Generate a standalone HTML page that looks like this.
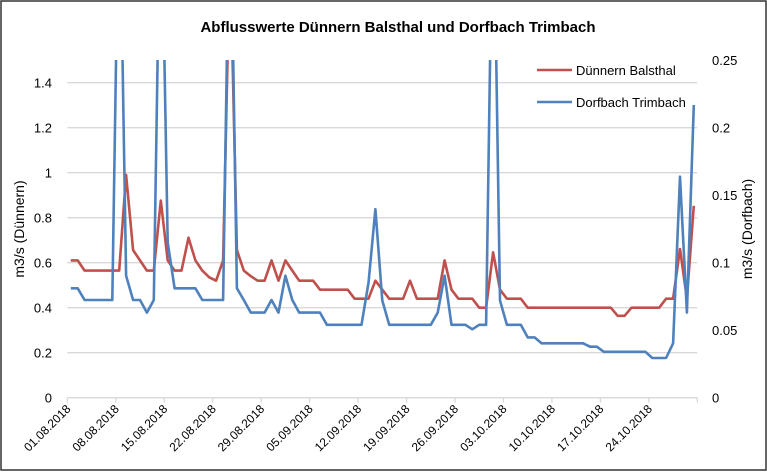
<!DOCTYPE html>
<html><head><meta charset="utf-8"><style>
body{margin:0;background:#fff;}
svg{display:block;font-family:"Liberation Sans",sans-serif;}
</style></head><body>
<svg id="chart" width="767" height="472" viewBox="0 0 767 472">
<rect x="1" y="1" width="765" height="469" fill="#fff" stroke="#333" stroke-width="1.5"/>
<text x="398" y="32" text-anchor="middle" font-weight="bold" font-size="15" fill="#000">Abflusswerte Dünnern Balsthal und Dorfbach Trimbach</text>
<g id="grid"></g><g id="axes"></g>
<defs><clipPath id="clip"><rect x="60" y="60" width="645" height="345"/></clipPath></defs>
<g id="series" clip-path="url(#clip)"></g>
<text transform="translate(24,229) rotate(-90)" text-anchor="middle" font-size="14">m3/s (Dünnern)</text>
<text transform="translate(752,229) rotate(-90)" text-anchor="middle" font-size="14">m3/s (Dorfbach)</text>
<g>
<g><line x1="537" y1="70" x2="572" y2="70" stroke="#C0504D" stroke-width="2.5"/><text x="576" y="75" font-size="13">Dünnern Balsthal</text></g>
<g><line x1="537" y1="102" x2="572" y2="102" stroke="#4F81BD" stroke-width="2.5"/><text x="576" y="107" font-size="13">Dorfbach Trimbach</text></g>
</g>
</svg>
<script>
const duennern=[0.61,0.61,0.565,0.565,0.565,0.565,0.565,0.565,0.99,0.656,0.61,0.565,0.565,0.876,0.61,0.565,0.565,0.711,0.61,0.565,0.535,0.52,0.61,2.0,0.656,0.565,0.54,0.52,0.52,0.61,0.52,0.61,0.565,0.52,0.52,0.52,0.48,0.48,0.48,0.48,0.48,0.44,0.44,0.44,0.52,0.48,0.44,0.44,0.44,0.52,0.44,0.44,0.44,0.44,0.61,0.48,0.44,0.44,0.44,0.40,0.40,0.646,0.48,0.44,0.44,0.44,0.40,0.40,0.40,0.40,0.40,0.40,0.40,0.40,0.40,0.40,0.40,0.40,0.40,0.364,0.364,0.40,0.40,0.40,0.40,0.40,0.44,0.44,0.661,0.44,0.853];
const dorfbach=[0.081,0.081,0.0724,0.0724,0.0724,0.0724,0.0724,0.4,0.0904,0.0724,0.0724,0.063,0.0724,0.4,0.115,0.081,0.081,0.081,0.081,0.0724,0.0724,0.0724,0.0724,0.4,0.081,0.0724,0.063,0.063,0.063,0.0724,0.063,0.0904,0.0724,0.063,0.063,0.063,0.063,0.054,0.054,0.054,0.054,0.054,0.054,0.085,0.1396,0.072,0.054,0.054,0.054,0.054,0.054,0.054,0.054,0.063,0.0904,0.054,0.054,0.054,0.0507,0.054,0.054,0.4,0.072,0.054,0.054,0.054,0.0447,0.0447,0.0403,0.0403,0.0403,0.0403,0.0403,0.0403,0.0403,0.0378,0.0378,0.034,0.034,0.034,0.034,0.034,0.034,0.034,0.0294,0.0294,0.0294,0.0403,0.1637,0.063,0.2168];
const leftTicks=["0","0.2","0.4","0.6","0.8","1","1.2","1.4"];
const rightTicks=["0","0.05","0.1","0.15","0.2","0.25"];
const dateLabels=["01.08.2018","08.08.2018","15.08.2018","22.08.2018","29.08.2018","05.09.2018","12.09.2018","19.09.2018","26.09.2018","03.10.2018","10.10.2018","17.10.2018","24.10.2018"];
const NS="http://www.w3.org/2000/svg";
const X0=67.3,DAY=6.923,Y0=397.7;
const xDay=d=>X0+d*DAY;
const xPt=i=>X0+(i+0.5)*DAY;
const yL=v=>Y0-v*225;
const yR=v=>Y0-v*1350;
function mk(tag,attrs,parent){const e=document.createElementNS(NS,tag);for(const k in attrs)e.setAttribute(k,attrs[k]);parent.appendChild(e);return e;}
const grid=document.getElementById('grid'),axes=document.getElementById('axes'),series=document.getElementById('series');
leftTicks.forEach((t,i)=>{const v=parseFloat(t);const y=yL(v);
 if(v>0){const g=mk('line',{x1:X0,x2:697.3,y1:y,y2:y,stroke:'#d9d9d9','stroke-width':1.3},grid);
 
 }
 const tx=mk('text',{x:52,y:y+5,'text-anchor':'end','font-size':13},axes);tx.textContent=t;
 
 });
rightTicks.forEach(t=>{const y=yR(parseFloat(t));
 const tx=mk('text',{x:712,y:y+5,'font-size':13},axes);tx.textContent=t;
 
 });
const ax=mk('line',{x1:X0,x2:697.3,y1:Y0,y2:Y0,stroke:'#d9d9d9','stroke-width':1.3},axes);


for(let k=0;k<=13;k++){const x=xDay(k*7);mk('line',{x1:x,x2:x,y1:Y0,y2:Y0+5,stroke:'#d9d9d9','stroke-width':1.3},axes);}
dateLabels.forEach((t,k)=>{const x=xDay(k*7)+4,y=Y0+12;
 const tx=mk('text',{transform:`translate(${x},${y}) rotate(-45)`,'text-anchor':'end','font-size':12},axes);tx.textContent=t;
 
 });
function line(data,yf,color,name){const p=data.map((v,i)=>xPt(i).toFixed(1)+','+yf(v).toFixed(1)).join(' ');
 const e=mk('polyline',{points:p,fill:'none',stroke:color,'stroke-width':2.6,'stroke-linejoin':'round'},series);
 
 }
line(duennern,yL,'#C0504D','duennern-line');
line(dorfbach,yR,'#4F81BD','dorfbach-line');
</script>
</body></html>
